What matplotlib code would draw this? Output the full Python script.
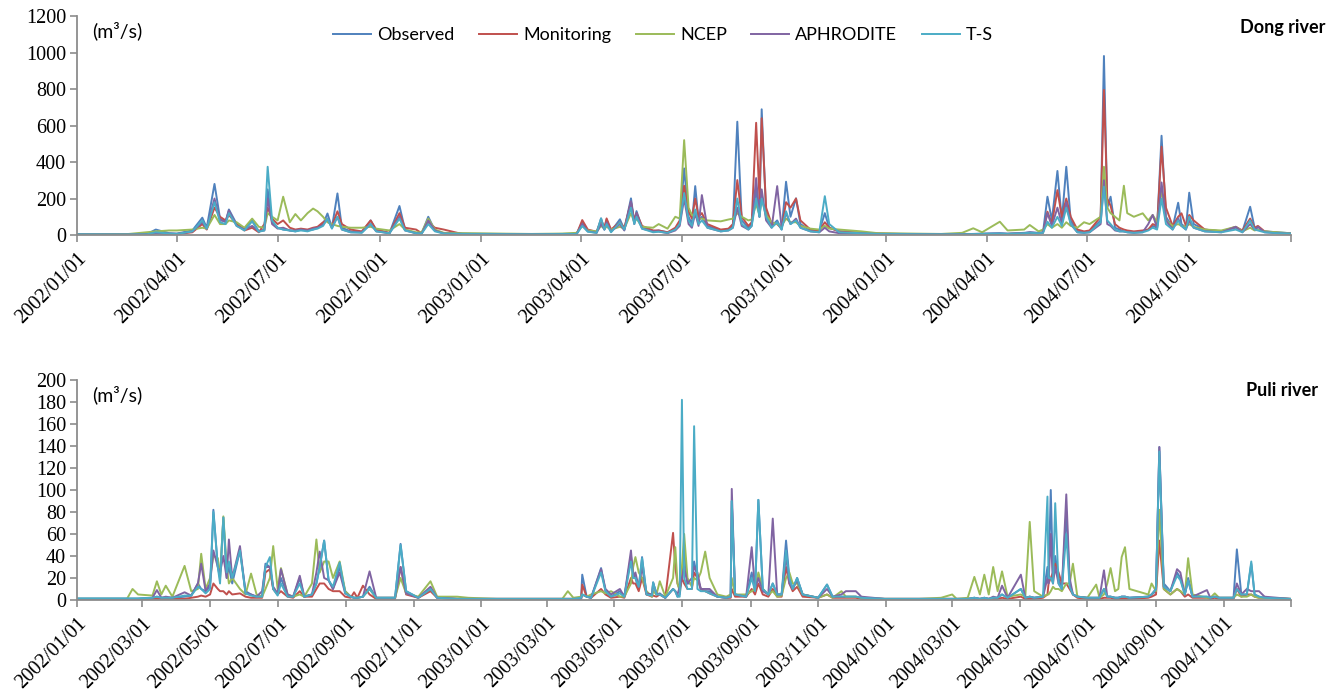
import matplotlib
matplotlib.use('Agg')
from matplotlib import pyplot as plt
import pandas as pd

plt.rcParams['font.family'] = ['Liberation Serif', 'DejaVu Serif']

series_names = ['Observed', 'Monitoring', 'NCEP', 'APHRODITE', 'T-S']
colors = ['#4F81BD', '#C0504D', '#9BBB59', '#8064A2', '#4BACC6']

# ---- Dong river (m3/s), breakpoints ----
dong_dates = [
    '2002-01-01', '2002-02-15', '2002-03-05', '2002-03-13', '2002-03-25', '2002-04-01', '2002-04-15', '2002-04-24', '2002-04-28', '2002-05-05',
    '2002-05-10', '2002-05-15', '2002-05-18', '2002-05-25', '2002-06-01', '2002-06-08', '2002-06-14', '2002-06-19', '2002-06-22', '2002-06-26',
    '2002-07-01', '2002-07-06', '2002-07-12', '2002-07-17', '2002-07-22', '2002-07-28', '2002-08-02', '2002-08-06', '2002-08-11', '2002-08-15',
    '2002-08-19', '2002-08-24', '2002-08-28', '2002-09-05', '2002-09-15', '2002-09-23', '2002-09-28', '2002-10-10', '2002-10-19', '2002-10-24',
    '2002-11-03', '2002-11-08', '2002-11-14', '2002-11-20', '2002-11-28', '2002-12-15', '2003-01-15', '2003-02-15', '2003-03-15', '2003-03-28',
    '2003-04-02', '2003-04-07', '2003-04-15', '2003-04-19', '2003-04-22', '2003-04-24', '2003-04-28', '2003-05-06', '2003-05-10', '2003-05-16',
    '2003-05-19', '2003-05-21', '2003-05-26', '2003-06-05', '2003-06-10', '2003-06-18', '2003-06-25', '2003-06-29', '2003-07-03', '2003-07-07',
    '2003-07-10', '2003-07-13', '2003-07-16', '2003-07-19', '2003-07-24', '2003-08-05', '2003-08-12', '2003-08-16', '2003-08-20', '2003-08-24',
    '2003-08-30', '2003-09-02', '2003-09-06', '2003-09-09', '2003-09-11', '2003-09-15', '2003-09-20', '2003-09-25', '2003-09-29', '2003-10-03',
    '2003-10-07', '2003-10-12', '2003-10-16', '2003-10-25', '2003-11-02', '2003-11-07', '2003-11-11', '2003-11-20', '2003-12-10', '2003-12-25',
    '2004-01-20', '2004-02-20', '2004-03-10', '2004-03-20', '2004-03-28', '2004-04-13', '2004-04-20', '2004-05-05', '2004-05-10', '2004-05-18',
    '2004-05-22', '2004-05-26', '2004-05-30', '2004-06-04', '2004-06-08', '2004-06-12', '2004-06-16', '2004-06-22', '2004-06-28', '2004-07-03',
    '2004-07-13', '2004-07-16', '2004-07-19', '2004-07-22', '2004-07-26', '2004-07-30', '2004-08-03', '2004-08-06', '2004-08-12', '2004-08-20',
    '2004-08-25', '2004-08-29', '2004-09-02', '2004-09-06', '2004-09-10', '2004-09-16', '2004-09-21', '2004-09-24', '2004-09-28', '2004-10-01',
    '2004-10-05', '2004-10-15', '2004-10-30', '2004-11-12', '2004-11-18', '2004-11-25', '2004-11-29', '2004-12-02', '2004-12-08', '2004-12-20', '2004-12-31',
]
dong_obs = [
    5, 4, 5, 30, 10, 8, 25, 95, 40, 280,
    90, 70, 140, 60, 30, 80, 20, 30, 250, 70,
    40, 30, 25, 20, 30, 25, 30, 40, 60, 118,
    40, 228, 40, 20, 15, 80, 25, 10, 159, 30,
    10, 8, 100, 25, 10, 8, 6, 5, 6, 8,
    70, 25, 15, 91, 30, 85, 20, 86, 30, 201,
    70, 131, 40, 20, 25, 15, 30, 60, 365, 100,
    60, 268, 80, 100, 50, 25, 30, 50, 621, 80,
    40, 60, 250, 100, 689, 120, 50, 80, 30, 292,
    100, 201, 60, 25, 20, 120, 40, 20, 12, 8,
    6, 5, 5, 6, 8, 10, 8, 12, 15, 12,
    15, 210, 80, 351, 80, 374, 80, 20, 15, 20,
    80, 981, 150, 210, 40, 30, 20, 20, 15, 20,
    30, 50, 40, 544, 100, 40, 177, 60, 40, 232,
    60, 30, 20, 40, 20, 155, 40, 30, 20, 15, 10,
]
dong_mon = [
    3, 2, 3, 8, 5, 5, 15, 60, 30, 150,
    100, 80, 110, 60, 25, 40, 15, 60, 150, 90,
    60, 80, 40, 30, 35, 30, 40, 45, 70, 80,
    50, 130, 60, 30, 20, 80, 30, 12, 120, 40,
    30, 10, 70, 40, 30, 5, 4, 3, 4, 5,
    82, 30, 18, 80, 40, 91, 30, 70, 40, 180,
    80, 120, 50, 25, 25, 15, 40, 80, 270, 130,
    90, 200, 100, 120, 60, 30, 35, 60, 301, 100,
    50, 70, 615, 200, 640, 150, 60, 60, 35, 180,
    150, 200, 80, 30, 25, 70, 40, 20, 12, 8,
    5, 4, 4, 4, 5, 6, 6, 8, 10, 8,
    12, 128, 60, 246, 100, 200, 100, 30, 20, 25,
    100, 795, 200, 160, 60, 40, 30, 25, 20, 25,
    30, 60, 50, 484, 150, 50, 100, 119, 50, 110,
    80, 30, 20, 45, 25, 90, 40, 50, 20, 12, 8,
]
dong_ncep = [
    3, 5, 15, 20, 25, 25, 30, 40, 35, 110,
    60, 60, 80, 70, 40, 90, 45, 40, 120, 100,
    80, 210, 70, 115, 80, 120, 145, 130, 100, 70,
    60, 50, 45, 40, 40, 45, 35, 25, 60, 30,
    15, 15, 90, 30, 12, 10, 8, 6, 8, 12,
    50, 25, 20, 50, 35, 45, 30, 45, 35, 120,
    70, 90, 45, 40, 60, 35, 100, 90, 520, 150,
    110, 100, 90, 90, 80, 75, 85, 90, 120, 100,
    80, 85, 170, 110, 200, 110, 70, 60, 50, 90,
    70, 70, 50, 35, 30, 50, 35, 30, 20, 10,
    8, 6, 12, 37, 15, 73, 25, 30, 55, 20,
    30, 60, 40, 60, 40, 70, 50, 40, 70, 60,
    100, 374, 150, 120, 100, 80, 270, 120, 100, 119,
    80, 110, 70, 250, 80, 50, 60, 50, 45, 60,
    45, 30, 25, 45, 20, 40, 25, 30, 20, 15, 10,
]
dong_aph = [
    3, 3, 4, 10, 8, 6, 20, 70, 35, 200,
    80, 75, 135, 50, 30, 50, 20, 25, 200, 60,
    35, 40, 25, 25, 30, 25, 35, 40, 55, 90,
    40, 100, 30, 15, 15, 60, 20, 10, 100, 25,
    10, 8, 80, 25, 8, 6, 5, 4, 5, 6,
    60, 20, 12, 60, 30, 70, 20, 60, 25, 185,
    60, 120, 35, 20, 20, 10, 25, 50, 200, 60,
    40, 120, 50, 219, 40, 20, 25, 40, 150, 50,
    30, 50, 312, 100, 250, 80, 40, 268, 40, 120,
    60, 90, 40, 20, 15, 40, 20, 10, 8, 6,
    5, 4, 4, 5, 6, 8, 6, 10, 15, 10,
    15, 120, 50, 150, 60, 180, 60, 15, 12, 15,
    60, 300, 60, 50, 25, 20, 20, 15, 12, 15,
    60, 110, 40, 288, 80, 30, 90, 50, 30, 80,
    40, 20, 15, 45, 15, 60, 30, 45, 15, 10, 8,
]
dong_ts = [
    4, 3, 4, 15, 8, 6, 20, 80, 35, 180,
    70, 60, 120, 50, 25, 75, 18, 25, 374, 80,
    40, 30, 25, 20, 25, 20, 30, 35, 50, 90,
    35, 100, 30, 15, 12, 60, 20, 10, 90, 25,
    10, 8, 60, 20, 8, 6, 5, 4, 5, 6,
    50, 18, 12, 91, 30, 60, 15, 70, 30, 150,
    60, 100, 35, 15, 18, 12, 30, 60, 230, 80,
    50, 140, 60, 80, 40, 20, 25, 40, 200, 60,
    30, 50, 200, 100, 200, 100, 40, 70, 30, 130,
    60, 80, 40, 20, 15, 213, 60, 15, 10, 6,
    5, 4, 4, 5, 6, 8, 6, 10, 12, 10,
    12, 73, 40, 100, 50, 150, 60, 15, 12, 15,
    70, 265, 80, 60, 30, 20, 20, 15, 12, 15,
    25, 40, 30, 200, 60, 30, 80, 50, 30, 100,
    40, 20, 15, 30, 15, 80, 30, 25, 15, 10, 8,
]

# ---- Puli river (m3/s) ----
puli_dates = [
    '2002-01-01', '2002-02-15', '2002-02-20', '2002-02-25', '2002-03-10', '2002-03-14', '2002-03-18', '2002-03-22', '2002-03-28', '2002-04-08',
    '2002-04-14', '2002-04-20', '2002-04-23', '2002-04-27', '2002-05-01', '2002-05-04', '2002-05-08', '2002-05-10', '2002-05-13', '2002-05-16',
    '2002-05-18', '2002-05-21', '2002-05-28', '2002-06-02', '2002-06-07', '2002-06-12', '2002-06-17', '2002-06-20', '2002-06-24', '2002-06-27',
    '2002-07-01', '2002-07-04', '2002-07-10', '2002-07-15', '2002-07-21', '2002-07-25', '2002-08-01', '2002-08-05', '2002-08-08', '2002-08-12',
    '2002-08-16', '2002-08-20', '2002-08-26', '2002-08-31', '2002-09-05', '2002-09-08', '2002-09-11', '2002-09-16', '2002-09-22', '2002-09-28',
    '2002-10-15', '2002-10-20', '2002-10-25', '2002-11-05', '2002-11-16', '2002-11-22', '2002-12-10', '2002-12-20', '2003-01-15', '2003-02-20',
    '2003-03-15', '2003-03-20', '2003-03-25', '2003-04-01', '2003-04-02', '2003-04-06', '2003-04-10', '2003-04-19', '2003-04-23', '2003-04-28',
    '2003-05-06', '2003-05-10', '2003-05-16', '2003-05-18', '2003-05-20', '2003-05-23', '2003-05-26', '2003-05-30', '2003-06-04', '2003-06-05',
    '2003-06-08', '2003-06-11', '2003-06-16', '2003-06-23', '2003-06-25', '2003-06-27', '2003-06-29', '2003-07-01', '2003-07-03', '2003-07-06',
    '2003-07-10', '2003-07-12', '2003-07-15', '2003-07-18', '2003-07-22', '2003-07-26', '2003-08-02', '2003-08-10', '2003-08-14', '2003-08-15',
    '2003-08-18', '2003-08-28', '2003-09-02', '2003-09-05', '2003-09-08', '2003-09-12', '2003-09-17', '2003-09-21', '2003-09-25', '2003-09-29',
    '2003-10-03', '2003-10-06', '2003-10-09', '2003-10-13', '2003-10-18', '2003-11-01', '2003-11-09', '2003-11-14', '2003-11-22', '2003-11-26',
    '2003-12-05', '2003-12-10', '2003-12-31', '2004-01-31', '2004-02-20', '2004-03-01', '2004-03-05', '2004-03-15', '2004-03-21', '2004-03-26',
    '2004-03-30', '2004-04-03', '2004-04-07', '2004-04-11', '2004-04-15', '2004-04-20', '2004-05-02', '2004-05-06', '2004-05-10', '2004-05-14',
    '2004-05-22', '2004-05-26', '2004-05-27', '2004-05-29', '2004-05-31', '2004-06-02', '2004-06-05', '2004-06-08', '2004-06-12', '2004-06-15',
    '2004-06-18', '2004-06-22', '2004-07-01', '2004-07-09', '2004-07-12', '2004-07-16', '2004-07-19', '2004-07-22', '2004-07-26', '2004-07-29',
    '2004-08-01', '2004-08-04', '2004-08-08', '2004-08-25', '2004-08-28', '2004-09-01', '2004-09-04', '2004-09-08', '2004-09-14', '2004-09-20',
    '2004-09-23', '2004-09-27', '2004-09-30', '2004-10-04', '2004-10-17', '2004-10-20', '2004-10-24', '2004-10-28', '2004-11-10', '2004-11-13',
    '2004-11-17', '2004-11-22', '2004-11-26', '2004-11-29', '2004-12-03', '2004-12-08', '2004-12-31',
]
puli_obs = [
    1, 1, 1, 1, 2, 3, 2, 2, 2, 3,
    4, 15, 10, 8, 12, 82, 30, 20, 75, 20,
    30, 15, 45, 8, 5, 3, 4, 33, 30, 10,
    5, 20, 4, 3, 20, 3, 5, 15, 30, 54,
    18, 10, 30, 8, 3, 2, 2, 3, 12, 2,
    2, 51, 8, 2, 10, 2, 1, 1, 1, 1,
    1, 1, 1, 2, 23, 3, 2, 29, 8, 3,
    8, 3, 40, 25, 20, 10, 39, 5, 5, 16,
    5, 6, 2, 10, 8, 3, 5, 20, 48, 15,
    15, 35, 20, 10, 8, 8, 3, 2, 3, 90,
    5, 3, 25, 8, 91, 10, 5, 15, 5, 5,
    54, 20, 10, 20, 5, 2, 14, 3, 3, 3,
    3, 2, 1, 1, 1, 1, 1, 1, 2, 1,
    2, 1, 2, 2, 5, 2, 10, 2, 3, 2,
    3, 30, 20, 100, 20, 40, 20, 10, 80, 15,
    5, 3, 2, 2, 2, 10, 3, 3, 2, 2,
    3, 3, 2, 3, 5, 8, 139, 15, 8, 25,
    20, 5, 20, 3, 3, 2, 3, 2, 2, 46,
    5, 5, 33, 5, 3, 2, 1,
]
puli_mon = [
    1, 1, 1, 1, 1, 1, 1, 1, 1, 1,
    2, 3, 4, 3, 5, 15, 10, 8, 8, 5,
    8, 5, 6, 3, 2, 2, 2, 25, 28, 10,
    5, 8, 3, 2, 8, 3, 3, 10, 15, 15,
    10, 8, 8, 3, 2, 7, 2, 13, 5, 1,
    1, 30, 5, 2, 8, 2, 1, 1, 1, 1,
    1, 1, 1, 1, 14, 3, 2, 10, 5, 2,
    3, 2, 20, 15, 15, 8, 20, 5, 3, 4,
    3, 5, 2, 61, 30, 15, 10, 20, 15, 10,
    10, 25, 20, 10, 8, 6, 3, 2, 2, 10,
    3, 3, 10, 5, 15, 5, 3, 10, 3, 3,
    30, 15, 8, 12, 3, 2, 5, 2, 2, 2,
    2, 1, 1, 1, 1, 1, 1, 1, 1, 1,
    1, 1, 1, 1, 2, 1, 3, 1, 1, 1,
    2, 5, 15, 20, 25, 33, 25, 15, 15, 10,
    5, 2, 1, 1, 1, 2, 2, 2, 1, 1,
    1, 1, 1, 2, 3, 5, 54, 10, 5, 10,
    8, 3, 5, 2, 2, 1, 2, 1, 1, 10,
    3, 5, 5, 3, 2, 2, 1,
]
puli_ncep = [
    1, 1, 10, 5, 4, 17, 5, 13, 3, 31,
    8, 10, 42, 10, 20, 40, 38, 20, 76, 30,
    15, 20, 10, 5, 24, 5, 3, 10, 20, 49,
    10, 29, 5, 3, 5, 3, 15, 55, 25, 35,
    35, 20, 35, 8, 3, 2, 2, 3, 10, 2,
    2, 20, 6, 3, 17, 3, 3, 2, 1, 1,
    1, 8, 2, 3, 5, 3, 5, 8, 6, 8,
    3, 3, 15, 30, 39, 25, 20, 8, 3, 8,
    5, 17, 3, 20, 48, 15, 8, 30, 60, 20,
    12, 20, 18, 25, 44, 20, 5, 3, 5, 20,
    5, 5, 8, 10, 25, 10, 5, 8, 3, 4,
    20, 25, 15, 15, 5, 2, 5, 2, 8, 3,
    3, 2, 1, 1, 2, 5, 1, 2, 21, 5,
    23, 5, 30, 8, 26, 3, 5, 3, 71, 8,
    3, 5, 5, 8, 12, 10, 10, 8, 15, 15,
    33, 3, 2, 14, 2, 5, 15, 29, 8, 10,
    39, 48, 10, 5, 15, 8, 82, 10, 5, 10,
    8, 5, 38, 5, 2, 2, 6, 2, 2, 5,
    3, 3, 5, 3, 2, 2, 1,
]
puli_aph = [
    1, 1, 1, 1, 2, 9, 2, 3, 2, 7,
    4, 15, 33, 8, 15, 45, 30, 25, 40, 20,
    55, 20, 49, 6, 5, 3, 8, 30, 30, 12,
    6, 28, 5, 3, 22, 3, 5, 25, 44, 20,
    18, 10, 25, 6, 3, 2, 2, 3, 26, 2,
    2, 30, 6, 2, 12, 2, 1, 1, 1, 1,
    1, 1, 1, 1, 5, 3, 2, 28, 10, 5,
    10, 3, 45, 20, 25, 12, 30, 6, 5, 15,
    6, 5, 2, 10, 8, 5, 12, 20, 30, 15,
    20, 30, 25, 10, 10, 10, 3, 2, 3, 101,
    5, 3, 48, 10, 20, 8, 5, 74, 5, 5,
    40, 15, 10, 18, 5, 2, 10, 3, 5, 8,
    8, 3, 1, 1, 1, 1, 1, 1, 2, 1,
    2, 1, 3, 2, 13, 2, 23, 2, 3, 2,
    3, 20, 15, 60, 15, 30, 15, 10, 96, 20,
    5, 3, 2, 2, 2, 27, 3, 3, 2, 2,
    3, 3, 2, 3, 5, 10, 139, 12, 8, 28,
    25, 5, 18, 3, 9, 2, 3, 2, 2, 15,
    5, 10, 8, 8, 8, 3, 1,
]
puli_ts = [
    1.5, 1.5, 1.5, 1.5, 2, 3, 2, 2, 2, 4,
    4, 12, 10, 6, 10, 80, 30, 15, 75, 25,
    35, 20, 45, 6, 4, 3, 3, 30, 39, 10,
    4, 15, 3, 3, 15, 3, 5, 15, 30, 54,
    18, 12, 34, 6, 3, 2, 2, 3, 10, 2,
    2, 50, 8, 2, 10, 2, 1, 1, 1, 1,
    1, 1, 1, 2, 5, 3, 2, 25, 8, 3,
    6, 3, 35, 20, 20, 12, 38, 5, 4, 16,
    5, 5, 2, 10, 8, 3, 3, 182, 20, 10,
    10, 158, 10, 8, 8, 6, 3, 2, 3, 90,
    5, 3, 20, 8, 91, 10, 5, 15, 5, 5,
    45, 20, 10, 20, 5, 2, 14, 3, 3, 3,
    3, 2, 1, 1, 1, 1, 1, 1, 2, 1,
    2, 1, 2, 2, 5, 2, 10, 2, 3, 2,
    3, 94, 20, 20, 15, 88, 15, 10, 60, 12,
    5, 3, 2, 2, 2, 10, 3, 3, 2, 2,
    3, 3, 2, 3, 5, 10, 135, 12, 8, 22,
    18, 5, 18, 3, 3, 2, 3, 2, 2, 10,
    5, 5, 35, 5, 3, 2, 1,
]

dong_ticks = pd.date_range('2002-01-01', '2004-10-01', freq='3MS')
puli_ticks = pd.date_range('2002-01-01', '2004-11-01', freq='2MS')
x_start, x_end = pd.Timestamp('2002-01-01'), pd.Timestamp('2005-01-01')

panels = [
    (dong_dates, [dong_obs, dong_mon, dong_ncep, dong_aph, dong_ts], 1200, 200, dong_ticks, 'Dong river'),
    (puli_dates, [puli_obs, puli_mon, puli_ncep, puli_aph, puli_ts], 200, 20, puli_ticks, 'Puli river'),
]

fig = plt.figure(figsize=(13.37, 6.97), dpi=100)
boxes = [[0.0577, 0.6628, 0.9080, 0.3142], [0.0577, 0.1392, 0.9080, 0.3156]]
sans = ['Lato', 'DejaVu Sans']
grey = '#8C8C8C'

axes = []
for (dates, vals, ymax, ystep, ticks, title), box in zip(panels, boxes):
    for v in vals:
        assert len(v) == len(dates), (title, len(v), len(dates))
    ax = fig.add_axes(box)
    d = pd.to_datetime(dates)
    for name, v, c in zip(series_names, vals, colors):
        ax.plot(d, v, color=c, lw=1.4, label=name, solid_joinstyle='round')
    ax.set_xlim(x_start, x_end)
    ax.set_ylim(0, ymax)
    yt = list(range(0, ymax + 1, ystep))
    ax.set_yticks(yt, [str(t) for t in yt], fontsize=14.5)
    labels = [t.strftime('%Y/%m/%d') for t in ticks] + ['']
    ax.set_xticks(list(ticks) + [x_end], labels, rotation=45, ha='right',
                  rotation_mode='anchor', fontsize=14.5)
    for s in ['top', 'right']:
        ax.spines[s].set_visible(False)
    for s in ['left', 'bottom']:
        ax.spines[s].set_color(grey)
        ax.spines[s].set_linewidth(1.3)
    ax.tick_params(axis='both', direction='out', length=5, width=1.2, color=grey, pad=3)
    ax.tick_params(axis='x', pad=5)
    ax.text(0.012, 0.975, '(m³/s)', transform=ax.transAxes, ha='left', va='top',
            family=sans, fontsize=14)
    axes.append(ax)

fig.text(1325 / 1337, 1 - 28 / 697, 'Dong river', ha='right', va='center',
         family=sans, fontweight='bold', fontsize=13)
fig.text(1318 / 1337, 1 - 390 / 697, 'Puli river', ha='right', va='center',
         family=sans, fontweight='bold', fontsize=13)

handles, names = axes[0].get_legend_handles_labels()
leg = fig.legend(handles, names, loc='center', bbox_to_anchor=(0.496, 1 - 35 / 697),
                 ncol=5, frameon=False, handlelength=2.1, handletextpad=0.35,
                 columnspacing=1.35, prop={'family': sans, 'size': 13})

fig.savefig('out.png', dpi=100)
